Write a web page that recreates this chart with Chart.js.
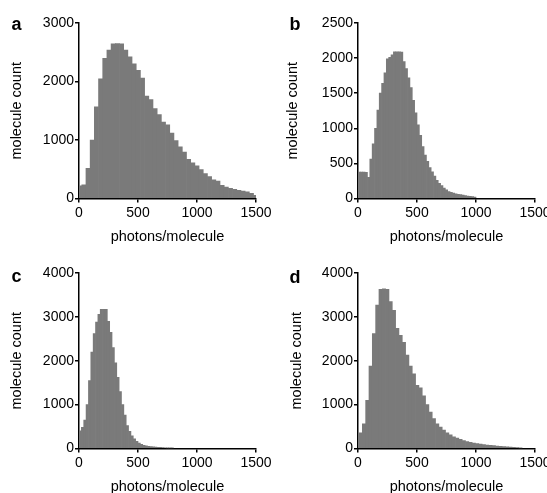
<!DOCTYPE html>
<html>
<head>
<meta charset="utf-8">
<script src="https://cdn.jsdelivr.net/npm/chart.js@4.4.1/dist/chart.umd.min.js"></script>
<style>
  html, body { margin: 0; padding: 0; background: #fff; overflow: hidden; }
  body { width: 547px; height: 493px; position: relative; font-family: 'Liberation Sans', Arial, sans-serif; }
  canvas { position: absolute; }
  .letter { position: absolute; font-weight: bold; font-size: 18px; line-height: 18px; color: #000; }
</style>
</head>
<body>
<canvas id="chartA" width="273" height="250" style="left:0;top:0"></canvas>
<canvas id="chartB" width="300" height="250" style="left:273px;top:0"></canvas>
<canvas id="chartC" width="273" height="250" style="left:0;top:250px"></canvas>
<canvas id="chartD" width="300" height="250" style="left:273px;top:250px"></canvas>
<div class="letter" style="left:11.5px;top:14.8px">a</div>
<div class="letter" style="left:289.5px;top:14.8px">b</div>
<div class="letter" style="left:11.5px;top:266.5px">c</div>
<div class="letter" style="left:289.5px;top:267.5px">d</div>
<script>
// photons/molecule histograms (molecule count per bin)
const xTickValues = [0, 500, 1000, 1500];

const countsA = [215, 235, 515, 1000, 1565, 2045, 2395, 2535, 2645, 2650, 2645, 2535, 2420, 2300,
    2190, 2060, 1750, 1690, 1535, 1435, 1305, 1260, 1120, 990, 885, 795, 670, 608, 557, 496,
    425, 376, 320, 296, 225, 195, 174, 156, 140, 127, 113, 87, 55];
const binA = { width: 35.5, firstCenter: 5.75 };

const countsB = [375, 378, 376, 372, 300, 560, 780, 1000, 1260, 1500, 1640, 1790, 1990, 2010,
    2045, 2090, 2090, 2090, 2085, 1950, 1850, 1720, 1580, 1400, 1220, 1050, 900, 740, 620, 530,
    440, 380, 320, 260, 215, 185, 150, 125, 100, 88, 78, 68, 60, 55, 48, 42, 36, 32, 28, 22];
const binB = { width: 20, firstCenter: 10 };

const countsC = [400, 480, 650, 1000, 1550, 2200, 2620, 2880, 3060, 3170, 3170, 3170, 2900, 2650,
    2300, 1950, 1620, 1300, 1000, 760, 520, 390, 290, 220, 165, 125, 95, 75, 60, 50,
    42, 36, 31, 27, 24, 21, 18, 16, 14, 12];
const binC = { width: 20, firstCenter: 10 };

const countsD = [340, 360, 560, 1100, 1880, 2620, 3270, 3630, 3640, 3630, 3350, 3150, 2740, 2580,
    2420, 2130, 1880, 1700, 1440, 1380, 1200, 1000, 830, 680, 560, 490, 420, 360, 310, 265,
    240, 210, 178, 160, 140, 125, 112, 100, 88, 78, 72, 64, 58, 52, 46, 40, 33, 27, 20, 14];
const binD = { width: 28.2, firstCenter: -5.6 };

const tickFont = { family: "'Liberation Sans', Arial, sans-serif", size: 14 };
const titleFont = { family: "'Liberation Sans', Arial, sans-serif", size: 14.5 };
const plainNumber = v => String(v);

function buildChart(id, counts, bin, yMax, yStep, area, yTitleX) {
    const canvas = document.getElementById(id);
    const W = canvas.width, H = canvas.height;
    const points = counts.map((c, i) => ({ x: bin.firstCenter + i * bin.width, y: c }));

    return new Chart(canvas, {
        type: 'bar',
        data: {
            datasets: [{
                data: points,
                backgroundColor: '#7a7a7a',
                borderWidth: 0,
                barPercentage: 1,
                categoryPercentage: 1,
                clip: 0
            }]
        },
        options: {
            responsive: false,
            animation: false,
            layout: { padding: { left: 0, top: area.top, right: W - area.right, bottom: 0 } },
            plugins: { legend: { display: false }, tooltip: { enabled: false } },
            scales: {
                x: {
                    type: 'linear', min: 0, max: 1500, offset: false, z: 1,
                    afterBuildTicks: s => { s.ticks = xTickValues.map(v => ({ value: v })); },
                    ticks: { font: tickFont, color: '#000', padding: 2, maxRotation: 0, autoSkip: false,
                             callback: plainNumber },
                    grid: { offset: false, drawOnChartArea: false, tickLength: 4, color: '#000', lineWidth: 1.5 },
                    border: { display: true, color: '#000', width: 1.5 },
                    title: { display: true, text: 'photons/molecule', font: titleFont, color: '#000',
                             padding: { top: 0, bottom: 4.3 } },
                    afterFit: s => { s.height = H - area.bottom; s.paddingLeft = 0; s.paddingRight = 0; }
                },
                y: {
                    min: 0, max: yMax, z: 1,
                    ticks: { stepSize: yStep, font: tickFont, color: '#000', padding: 1, callback: plainNumber },
                    grid: { drawOnChartArea: false, tickLength: 4, color: '#000', lineWidth: 1.5 },
                    border: { display: true, color: '#000', width: 1.5 },
                    title: { display: true, text: 'molecule count', font: titleFont, color: '#000',
                             padding: { top: yTitleX - 8.7, bottom: 0 } },
                    afterFit: s => { s.width = area.left; s.paddingTop = 0; s.paddingBottom = 0; }
                }
            }
        }
    });
}

buildChart('chartA', countsA, binA, 3000, 1000, { left: 79, right: 256, top: 23, bottom: 198.5 }, 16.7);
buildChart('chartB', countsB, binB, 2500, 500, { left: 85, right: 262, top: 23, bottom: 198.5 }, 20);
buildChart('chartC', countsC, binC, 4000, 1000, { left: 79, right: 256, top: 23, bottom: 198.5 }, 16.7);
buildChart('chartD', countsD, binD, 4000, 1000, { left: 85, right: 262, top: 23, bottom: 198.5 }, 24);
</script>
</body>
</html>
